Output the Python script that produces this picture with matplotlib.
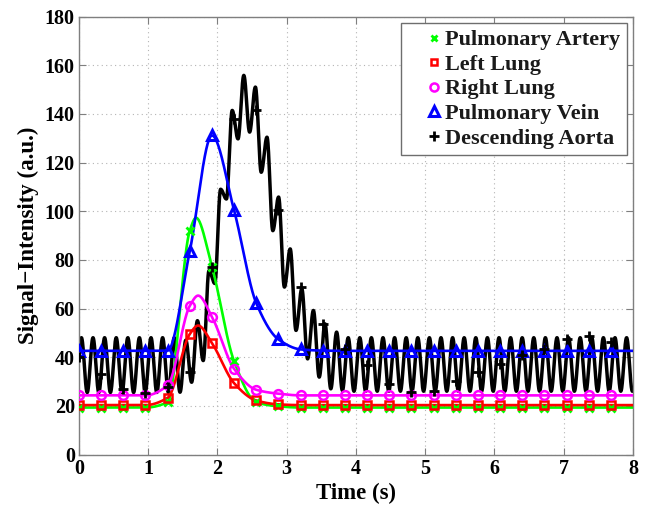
import numpy as np
import matplotlib
matplotlib.use("Agg")
import matplotlib.pyplot as plt
from matplotlib.lines import Line2D

# ---- sampled frames (s) -------------------------------------------------
frame_times = [0.00, 0.32, 0.64, 0.96, 1.28, 1.60, 1.92, 2.24, 2.56, 2.88,
               3.20, 3.52, 3.84, 4.16, 4.48, 4.80, 5.12, 5.44, 5.76, 6.08,
               6.40, 6.72, 7.04, 7.36, 7.68]

pulmonary_artery = [19.3, 19.3, 19.3, 19.3, 21.5, 92.0, 77.2, 38.3, 21.5, 19.8,
                    19.3, 19.3, 19.3, 19.3, 19.3, 19.3, 19.3, 19.3, 19.3, 19.3,
                    19.3, 19.3, 19.3, 19.3, 19.3]
left_lung = [20.3, 20.3, 20.3, 20.3, 23.3, 49.5, 45.8, 29.3, 22.2, 20.6,
             20.3, 20.3, 20.3, 20.3, 20.3, 20.3, 20.3, 20.3, 20.3, 20.3,
             20.3, 20.3, 20.3, 20.3, 20.3]
right_lung = [24.3, 24.3, 24.3, 24.3, 28.4, 61.1, 56.6, 35.2, 26.6, 25.0,
              24.3, 24.3, 24.3, 24.3, 24.3, 24.3, 24.3, 24.3, 24.3, 24.3,
              24.3, 24.3, 24.3, 24.3, 24.3]
pulmonary_vein = [42.6, 42.6, 42.6, 42.6, 42.7, 83.6, 131.1, 100.3, 62.2, 47.3,
                  43.2, 42.7, 42.6, 42.6, 42.6, 42.6, 42.6, 42.6, 42.6, 42.6,
                  42.6, 42.6, 42.6, 42.6, 42.6]
descending_aorta = [40.0, 33.0, 26.8, 25.4, 27.7, 34.0, 77.0, 138.0, 141.4, 100.3,
                    68.8, 53.7, 43.5, 36.6, 29.0, 25.6, 26.3, 30.4, 33.8, 37.3,
                    41.0, 43.4, 47.5, 48.9, 46.2]

# fitted-curve maxima lying between frames (time s, value)
artery_curve_peak = [1.69, 97.3]
left_curve_peak = [1.72, 53.0]
right_curve_peak = [1.72, 65.3]

# ---- pulsatile aortic trace: successive peak / trough values -------------
aorta_cycle = 0.1675          # s, one cardiac pulsation
aorta_first_peak = 0.035      # s
aorta_peaks = ([48.0] * 9 +
               [47.0, 55.0, 75.6, 109.0, 141.4, 155.8, 151.0, 130.4, 105.8,
                84.5, 68.1, 59.2, 53.7, 50.3] +
               [48.0] * 26)
aorta_troughs = ([25.5] * 9 +
                 [25.6, 29.7, 38.6, 70.3, 105.0, 129.7, 132.5, 116.0, 92.0,
                  68.8, 51.0, 39.3, 31.8, 27.0, 26.3] +
                 [26.0] * 26)

series_names = ["Pulmonary Artery", "Left Lung", "Right Lung",
                "Pulmonary Vein", "Descending Aorta"]


def pchip(x, y, xq):
    """Shape-preserving piecewise cubic Hermite interpolation."""
    x = np.asarray(x, float)
    y = np.asarray(y, float)
    h = np.diff(x)
    delta = np.diff(y) / h
    n = len(x)
    d = np.zeros(n)
    for k in range(1, n - 1):
        if delta[k - 1] * delta[k] > 0:
            w1 = 2 * h[k] + h[k - 1]
            w2 = h[k] + 2 * h[k - 1]
            d[k] = (w1 + w2) / (w1 / delta[k - 1] + w2 / delta[k])

    def end_slope(h0, h1, d0, d1):
        s = ((2 * h0 + h1) * d0 - h0 * d1) / (h0 + h1)
        if np.sign(s) != np.sign(d0):
            s = 0.0
        elif np.sign(d0) != np.sign(d1) and abs(s) > abs(3 * d0):
            s = 3 * d0
        return s

    d[0] = end_slope(h[0], h[1], delta[0], delta[1])
    d[-1] = end_slope(h[-1], h[-2], delta[-1], delta[-2])
    xq = np.clip(xq, x[0], x[-1])
    i = np.clip(np.searchsorted(x, xq) - 1, 0, n - 2)
    s = (xq - x[i]) / h[i]
    h00 = 2 * s ** 3 - 3 * s ** 2 + 1
    h10 = s ** 3 - 2 * s ** 2 + s
    h01 = -2 * s ** 3 + 3 * s ** 2
    h11 = s ** 3 - s ** 2
    return h00 * y[i] + h10 * h[i] * d[i] + h01 * y[i + 1] + h11 * h[i] * d[i + 1]


def with_peak(times, vals, peak):
    if peak is None:
        return list(times), list(vals)
    pts = sorted(list(zip(times, vals)) + [tuple(peak)])
    return [p[0] for p in pts], [p[1] for p in pts]


def pulsatile_trace(first_peak, cycle, peaks, troughs, tq):
    # extrema alternate trough / peak, starting half a cycle before the first peak
    ext_v = []
    for k in range(len(peaks)):
        ext_v.append(troughs[k])
        ext_v.append(peaks[k])
    ext_v.append(troughs[len(peaks)] if len(troughs) > len(peaks) else troughs[-1])
    ext_v = np.asarray(ext_v, float)
    ext_t = first_peak - cycle / 2 + np.arange(len(ext_v)) * cycle / 2
    i = np.clip(np.searchsorted(ext_t, tq) - 1, 0, len(ext_t) - 2)
    s = (tq - ext_t[i]) / (ext_t[i + 1] - ext_t[i])
    return ext_v[i] + (ext_v[i + 1] - ext_v[i]) * (1 - np.cos(np.pi * s)) / 2


plt.rcParams["font.family"] = ["Liberation Serif", "DejaVu Serif"]
plt.rcParams["font.weight"] = "bold"
plt.rcParams["axes.labelweight"] = "bold"

fig = plt.figure(figsize=(6.55, 5.08), dpi=100)
ax = fig.add_axes([0.1206, 0.1053, 0.8458, 0.8622])

t_fine = np.linspace(0, 8, 3000)

styles = [
    dict(color="#00ff00", marker="x", ms=5.5, mew=2.0),
    dict(color="#ff0000", marker="s", ms=5.5, mew=1.8),
    dict(color="#ff00ff", marker="o", ms=6.3, mew=1.8),
    dict(color="#0000ff", marker="^", ms=7, mew=2.2),
    dict(color="#000000", marker="+", ms=7, mew=2.0),
]
colored = [pulmonary_artery, left_lung, right_lung, pulmonary_vein]
peaks_between = [artery_curve_peak, left_curve_peak, right_curve_peak, None]

# aortic curve underneath
aorta_curve = pulsatile_trace(aorta_first_peak, aorta_cycle,
                              aorta_peaks, aorta_troughs, t_fine)
ax.plot(t_fine, aorta_curve, color="black", lw=2.5, zorder=2)

for vals, pk, st in zip(colored, peaks_between, styles[:4]):
    kt, kv = with_peak(frame_times, vals, pk)
    ax.plot(t_fine, pchip(kt, kv, t_fine), color=st["color"], lw=1.9, zorder=3)

for vals, st in zip(colored + [descending_aorta], styles):
    ax.plot(frame_times, vals, linestyle="none", marker=st["marker"],
            ms=st["ms"], mew=st["mew"], mec=st["color"], mfc="none", zorder=4)

ax.set_xlim(0, 8)
ax.set_ylim(0, 180)
ax.set_xticks(range(0, 9))
ax.set_yticks(range(0, 181, 20))
ax.grid(True, color="#b4b4b4", lw=0.8, linestyle=(0, (1, 3)))
ax.set_axisbelow(True)
for sp in ax.spines.values():
    sp.set_color("#7f7f7f")
    sp.set_linewidth(1.0)
ax.tick_params(direction="in", length=5, width=0.8, color="#7f7f7f",
               top=True, right=True, labelsize=14.5, pad=3)
for lab in ax.get_xticklabels() + ax.get_yticklabels():
    lab.set_fontweight("bold")

ax.set_xlabel("Time (s)", fontsize=16.5, fontweight="bold", labelpad=3)
ax.set_ylabel("Signal\u2212Intensity (a.u.)", fontsize=16.5, fontweight="bold",
              labelpad=4)

handles = [Line2D([], [], linestyle="none", marker=st["marker"], ms=st["ms"] - 0.5,
                  mew=st["mew"], mec=st["color"], mfc="none") for st in styles]
leg = ax.legend(handles, series_names, loc="upper right",
                bbox_to_anchor=(0.989, 0.985), fontsize=16, frameon=True,
                fancybox=False, framealpha=1, edgecolor="#6e6e6e",
                handlelength=2.4, handletextpad=-0.72, labelspacing=0.18,
                borderpad=0.3, borderaxespad=0.0, numpoints=1)
leg.get_frame().set_linewidth(1.0)
for txt in leg.get_texts():
    txt.set_fontweight("bold")
    txt.set_color("#1a1a1a")

fig.savefig("out.png", dpi=100)
